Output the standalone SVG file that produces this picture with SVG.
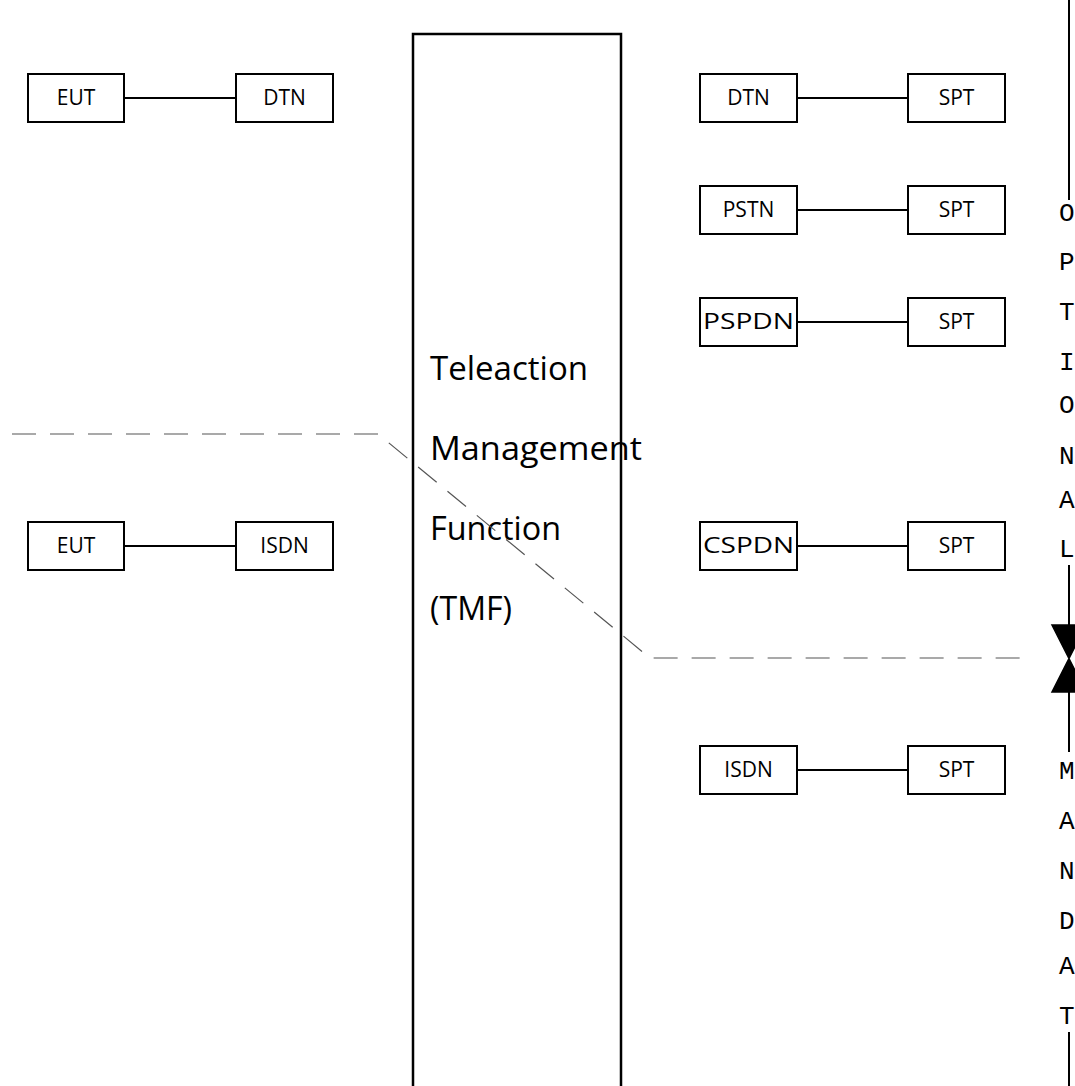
<svg xmlns="http://www.w3.org/2000/svg" width="1075" height="1086" viewBox="0 0 1075 1086">
<style>
.box{fill:#fff;stroke:#000;stroke-width:2}
.lbl{font-family:"Open Sans","Liberation Sans",sans-serif;font-size:21px;fill:#000;text-anchor:middle}
.conn{stroke:#000;stroke-width:2;fill:none}
.tmf{font-family:"Open Sans","Liberation Sans",sans-serif;font-size:32px;fill:#000}
.vl{font-family:"Liberation Mono","DejaVu Sans Mono",monospace;font-size:26px;fill:#000}
.dash{stroke:#555;stroke-width:1.2;fill:none;stroke-dasharray:24 14}
</style>
<rect width="1075" height="1086" fill="#fff"/>
<g id="tmf">
<rect x="413" y="34" width="208" height="1070" fill="none" stroke="#000" stroke-width="2.5"/>
<text class="tmf" x="430" y="380" textLength="158" lengthAdjust="spacingAndGlyphs">Teleaction</text>
<text class="tmf" x="430" y="460" textLength="212" lengthAdjust="spacingAndGlyphs">Management</text>
<text class="tmf" x="430" y="540" textLength="131" lengthAdjust="spacingAndGlyphs">Function</text>
<text class="tmf" x="430" y="620" textLength="82" lengthAdjust="spacingAndGlyphs">(TMF)</text>
</g>
<g id="connectors">
<line class="conn" x1="124" y1="98" x2="236" y2="98"/>
<line class="conn" x1="124" y1="546" x2="236" y2="546"/>
<line class="conn" x1="797" y1="98" x2="908" y2="98"/>
<line class="conn" x1="797" y1="210" x2="908" y2="210"/>
<line class="conn" x1="797" y1="322" x2="908" y2="322"/>
<line class="conn" x1="797" y1="546" x2="908" y2="546"/>
<line class="conn" x1="797" y1="770" x2="908" y2="770"/>
<path class="dash" d="M12 434 H378 L650 658 H1030"/>
<line class="conn" x1="1069" y1="0" x2="1069" y2="200"/>
<line class="conn" x1="1069" y1="565" x2="1069" y2="625"/>
<line class="conn" x1="1069" y1="692" x2="1069" y2="752"/>
<line class="conn" x1="1069" y1="1032" x2="1069" y2="1086"/>
<path d="M1052 625 H1086 L1052 692 H1086 Z" fill="#000" stroke="#000" stroke-width="1.5"/>
</g>
<g id="eut1"><rect class="box" x="28" y="74" width="96" height="48"/><text class="lbl" x="76" y="105">EUT</text></g>
<g id="dtn1"><rect class="box" x="236" y="74" width="97" height="48"/><text class="lbl" x="284.5" y="105">DTN</text></g>
<g id="eut2"><rect class="box" x="28" y="522" width="96" height="48"/><text class="lbl" x="76" y="553">EUT</text></g>
<g id="isdn1"><rect class="box" x="236" y="522" width="97" height="48"/><text class="lbl" x="284.5" y="553">ISDN</text></g>
<g id="dtn2"><rect class="box" x="700" y="74" width="97" height="48"/><text class="lbl" x="748.5" y="105">DTN</text></g>
<g id="spt1"><rect class="box" x="908" y="74" width="97" height="48"/><text class="lbl" x="956.5" y="105">SPT</text></g>
<g id="pstn"><rect class="box" x="700" y="186" width="97" height="48"/><text class="lbl" x="748.5" y="217">PSTN</text></g>
<g id="spt2"><rect class="box" x="908" y="186" width="97" height="48"/><text class="lbl" x="956.5" y="217">SPT</text></g>
<g id="pspdn"><rect class="box" x="700" y="298" width="97" height="48"/><text class="lbl" x="748.5" y="329" textLength="91" lengthAdjust="spacingAndGlyphs">PSPDN</text></g>
<g id="spt3"><rect class="box" x="908" y="298" width="97" height="48"/><text class="lbl" x="956.5" y="329">SPT</text></g>
<g id="cspdn"><rect class="box" x="700" y="522" width="97" height="48"/><text class="lbl" x="748.5" y="553" textLength="91" lengthAdjust="spacingAndGlyphs">CSPDN</text></g>
<g id="spt4"><rect class="box" x="908" y="522" width="97" height="48"/><text class="lbl" x="956.5" y="553">SPT</text></g>
<g id="isdn2"><rect class="box" x="700" y="746" width="97" height="48"/><text class="lbl" x="748.5" y="777">ISDN</text></g>
<g id="spt5"><rect class="box" x="908" y="746" width="97" height="48"/><text class="lbl" x="956.5" y="777">SPT</text></g>
<g id="vertical-label">
<text class="vl" x="1059" y="221">O</text>
<text class="vl" x="1059" y="270">P</text>
<text class="vl" x="1059" y="320">T</text>
<text class="vl" x="1059" y="370">I</text>
<text class="vl" x="1059" y="413">O</text>
<text class="vl" x="1059" y="464">N</text>
<text class="vl" x="1059" y="508">A</text>
<text class="vl" x="1059" y="557">L</text>
<text class="vl" x="1059" y="779">M</text>
<text class="vl" x="1059" y="829">A</text>
<text class="vl" x="1059" y="879">N</text>
<text class="vl" x="1059" y="929">D</text>
<text class="vl" x="1059" y="974">A</text>
<text class="vl" x="1059" y="1024">T</text>
</g>
</svg>
